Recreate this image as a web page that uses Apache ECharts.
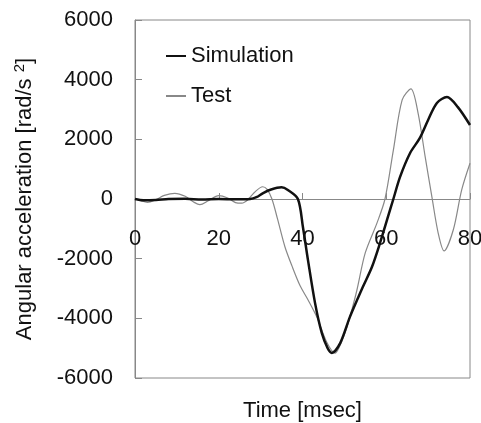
<!DOCTYPE html>
<html>
<head>
<meta charset="utf-8">
<script src="https://cdn.jsdelivr.net/npm/echarts@6/dist/echarts.min.js"></script>
<style>
  html, body { margin: 0; padding: 0; background: #fff; }
  #chart { width: 481px; height: 423px; }
</style>
</head>
<body>
<div id="chart"></div>
<script>
// 数据：时间 (msec) 与角加速度 (rad/s^2)
const testTime = [0, 1, 3, 5, 7, 9.5, 12, 14, 15.5, 17.5, 20, 22, 24, 25.5, 27, 28.5, 30.5, 31.5, 32.7, 34,
  35.8, 37.5, 39.4, 41.4, 43.4, 45.8, 47.8, 49, 50.6, 52, 53, 55, 57.8, 59.7, 61.7, 63.8, 65.9, 67.6,
  69.3, 70.9, 72.4, 73.8, 76, 78, 80];
const testValues = [0, -40, -110, -20, 120, 190, 90, -100, -190, -60, 110, 40, -120, -140, -20, 220, 410, 330, 0, -650,
  -1600, -2250, -2900, -3400, -3950, -4800, -5170, -4900, -4300, -3600, -3050, -1800, -800, 0, 1640, 3320, 3690, 2880,
  1410, 70, -1140, -1740, -1040, 300, 1200];

const simTime = [0, 2, 5, 8, 12, 16, 20, 24, 27.5, 29, 30.6, 32.5, 35, 36.5, 38.9, 40.1, 41.3, 43, 44.6, 46,
  47, 49, 51.3, 53.3, 54.4, 56.6, 58.5, 60.4, 61.7, 63.3, 65.7, 68, 70, 72.1, 74.5, 77.1, 80];
const simValues = [0, -40, -30, 0, 10, -20, 0, -10, 0, 60, 200, 320, 390, 300, 0, -940, -2040, -3490, -4490, -5000,
  -5160, -4830, -3960, -3300, -2950, -2270, -1480, -600, 0, 740, 1540, 2040, 2650, 3220, 3420, 3080, 2480];

const xTicks = [0, 20, 40, 60, 80];
const yTicks = [-6000, -4000, -2000, 0, 2000, 4000, 6000];

const myChart = echarts.init(document.getElementById('chart'));
const font = 'Liberation Sans, Arial, sans-serif';

function pairs(xs, ys) {
  return xs.map((x, i) => [x, ys[i]]);
}

const xMin = xTicks[0];
const xMax = xTicks[xTicks.length - 1];

const option = {
  animation: false,
  textStyle: { fontFamily: font },
  grid: {
    left: 135, right: 11, top: 20, bottom: 45,
    outerBoundsMode: 'none',
    containLabel: false,
    show: true, borderColor: '#888', borderWidth: 1
  },
  legend: {
    orient: 'vertical',
    left: 161, top: 40,
    itemWidth: 20, itemHeight: 2, itemGap: 18,
    icon: 'rect',
    textStyle: { fontSize: 22, color: '#111', fontFamily: font },
    data: [
      { name: 'Simulation', itemStyle: { color: '#111' } },
      { name: 'Test', itemStyle: { color: '#888' } }
    ]
  },
  xAxis: [
    {
      // 零线与刻度
      type: 'value',
      min: xMin, max: xMax, interval: 20,
      axisLine: { onZero: true, lineStyle: { color: '#888', width: 1 } },
      axisTick: { inside: true, length: 6, lineStyle: { color: '#888' } },
      axisLabel: { show: false },
      splitLine: { show: false }
    },
    {
      // 刻度标签与轴名
      type: 'value',
      position: 'bottom',
      min: xMin, max: xMax, interval: 20,
      name: 'Time [msec]',
      nameLocation: 'middle',
      nameGap: 22,
      nameMoveOverlap: false,
      nameTextStyle: { fontSize: 22, color: '#111', fontFamily: font, verticalAlign: 'top' },
      axisLine: { show: false, onZero: false },
      axisTick: { show: false },
      axisLabel: { fontSize: 22, color: '#111', margin: -150, fontFamily: font, formatter: v => String(v) },
      splitLine: { show: false }
    }
  ],
  yAxis: {
    type: 'value',
    min: yTicks[0], max: yTicks[yTicks.length - 1], interval: 2000,
    name: '{a|Angular acceleration [rad/s }{s|2}{a|]}',
    nameLocation: 'middle',
    nameGap: 98,
    nameTextStyle: {
      rich: {
        a: { fontSize: 22, color: '#111', fontFamily: font },
        s: { fontSize: 15, color: '#111', fontFamily: font, verticalAlign: 'top', padding: [0, 0, 10, 0] }
      }
    },
    axisLine: { show: true, lineStyle: { color: '#888', width: 1 } },
    axisTick: { inside: true, length: 7, lineStyle: { color: '#888' } },
    axisLabel: { fontSize: 22, color: '#111', margin: 22, fontFamily: font, formatter: v => String(v) },
    splitLine: { show: false }
  },
  series: [
    {
      name: 'Simulation',
      type: 'line',
      data: pairs(simTime, simValues),
      smooth: 0.3,
      showSymbol: false,
      lineStyle: { color: '#111', width: 2.5 },
      itemStyle: { color: '#111' },
      z: 3
    },
    {
      name: 'Test',
      type: 'line',
      data: pairs(testTime, testValues),
      smooth: 0.3,
      showSymbol: false,
      lineStyle: { color: '#888', width: 1.2 },
      itemStyle: { color: '#888' },
      z: 2
    }
  ]
};

myChart.setOption(option);
</script>
</body>
</html>
